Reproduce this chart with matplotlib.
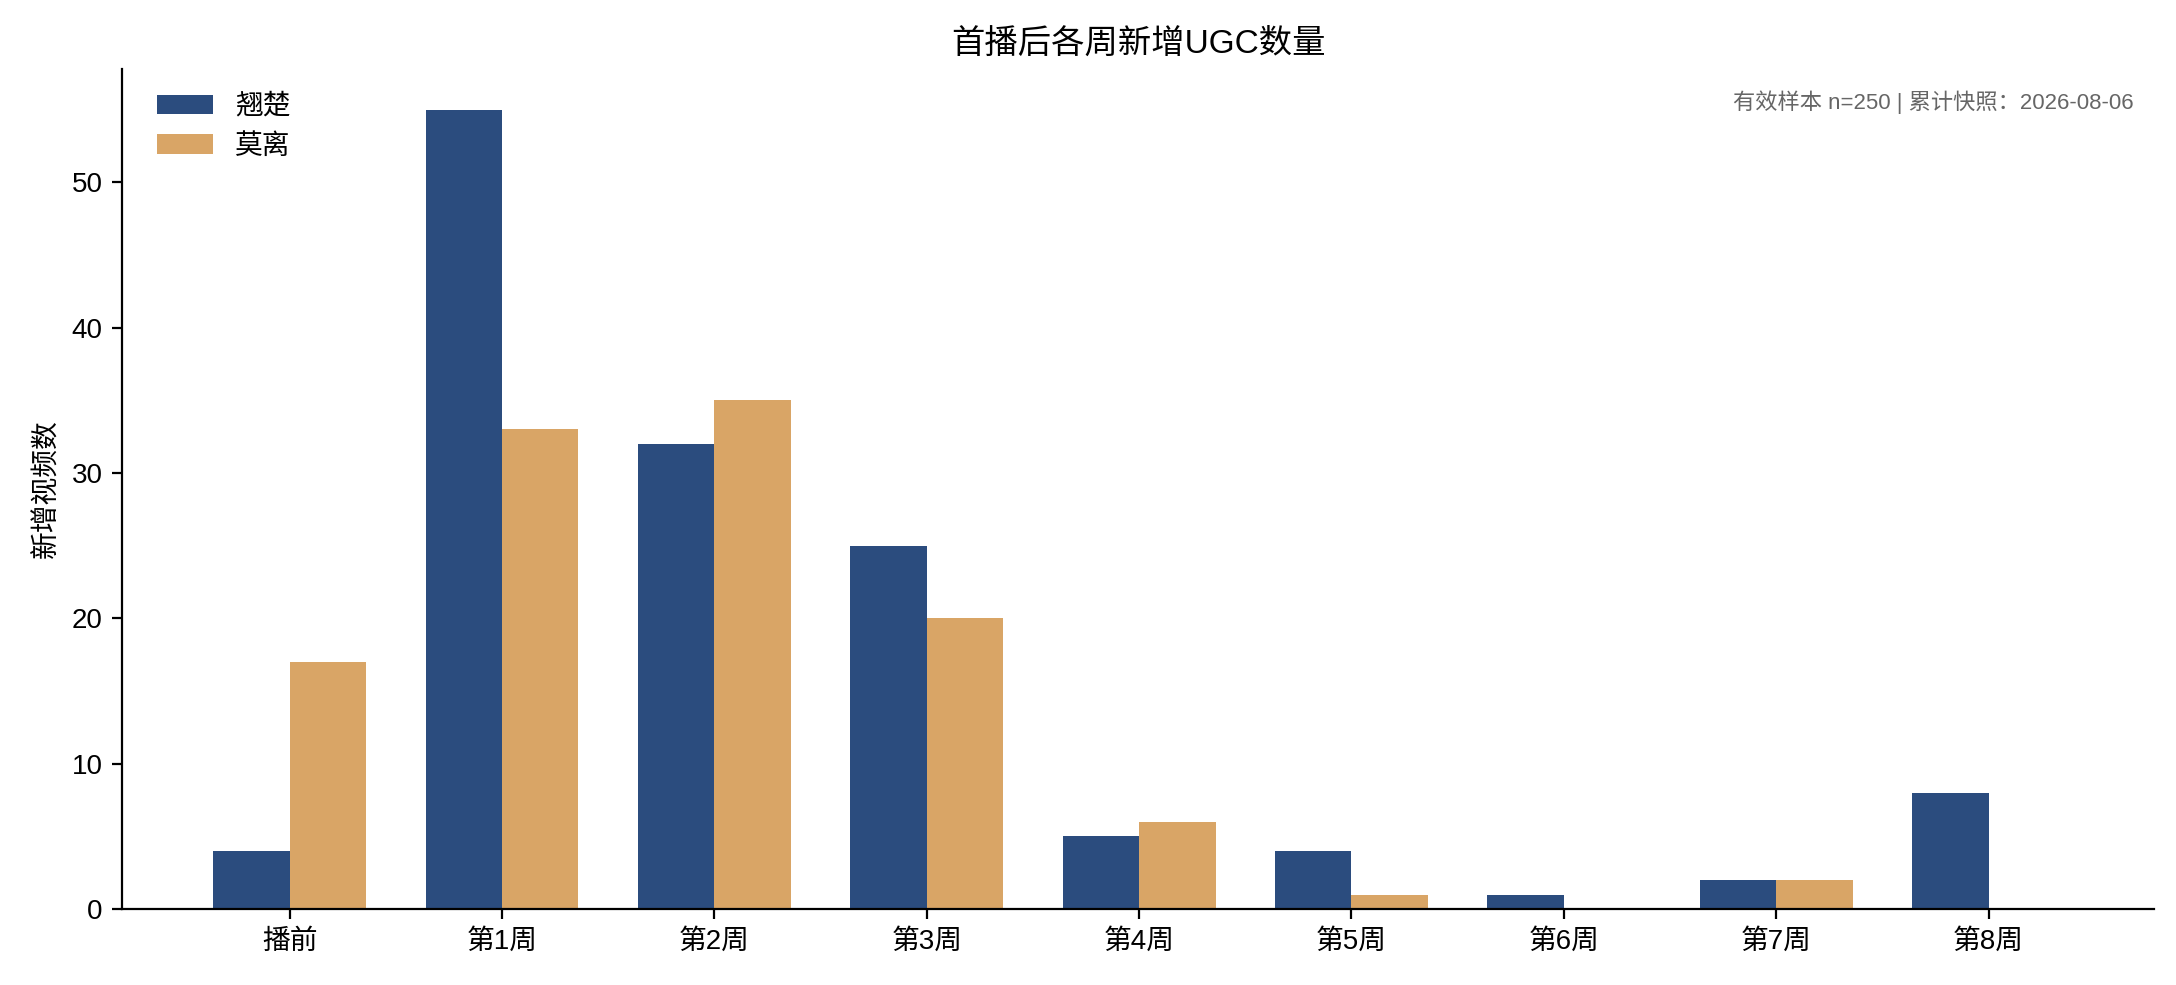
import matplotlib
matplotlib.use("Agg")
import matplotlib.pyplot as plt
import numpy as np

plt.rcParams['font.family'] = ['Liberation Sans', 'Noto Sans CJK SC', 'DejaVu Sans']

categories = ["播前", "第1周", "第2周", "第3周", "第4周", "第5周", "第6周", "第7周", "第8周"]
series_a = [4, 55, 32, 25, 5, 4, 1, 2, 8]
series_b = [17, 33, 35, 20, 6, 1, 0, 2, 0]
name_a, name_b = "翘楚", "莫离"

fig = plt.figure(figsize=(10.88, 4.925), dpi=200)
ax = fig.add_axes([0.056, 0.077, 0.934, 0.853])
x = np.arange(len(categories))
w = 0.36
ax.bar(x - w/2, series_a, w, color="#2B4C7E", label=name_a)
ax.bar(x + w/2, series_b, w, color="#D9A566", label=name_b)
ax.set_xticks(x)
ax.set_xticklabels(categories, fontsize=10)
ax.tick_params(axis='y', labelsize=10)
ax.set_xlim(-0.79, 8.78)
ax.set_ylim(0, 57.8)
ax.set_ylabel("新增视频数", fontsize=10)
ax.set_title("首播后各周新增UGC数量", fontsize=12)
for s in ("top", "right"):
    ax.spines[s].set_visible(False)
ax.legend(loc="upper left", frameon=False, fontsize=10, bbox_to_anchor=(0.005, 1.0))
ax.text(0.99, 0.975, "有效样本 n=250 | 累计快照：2026-08-06", transform=ax.transAxes,
        ha="right", va="top", fontsize=8, color="#666666")
fig.savefig("out.png", dpi=200)
